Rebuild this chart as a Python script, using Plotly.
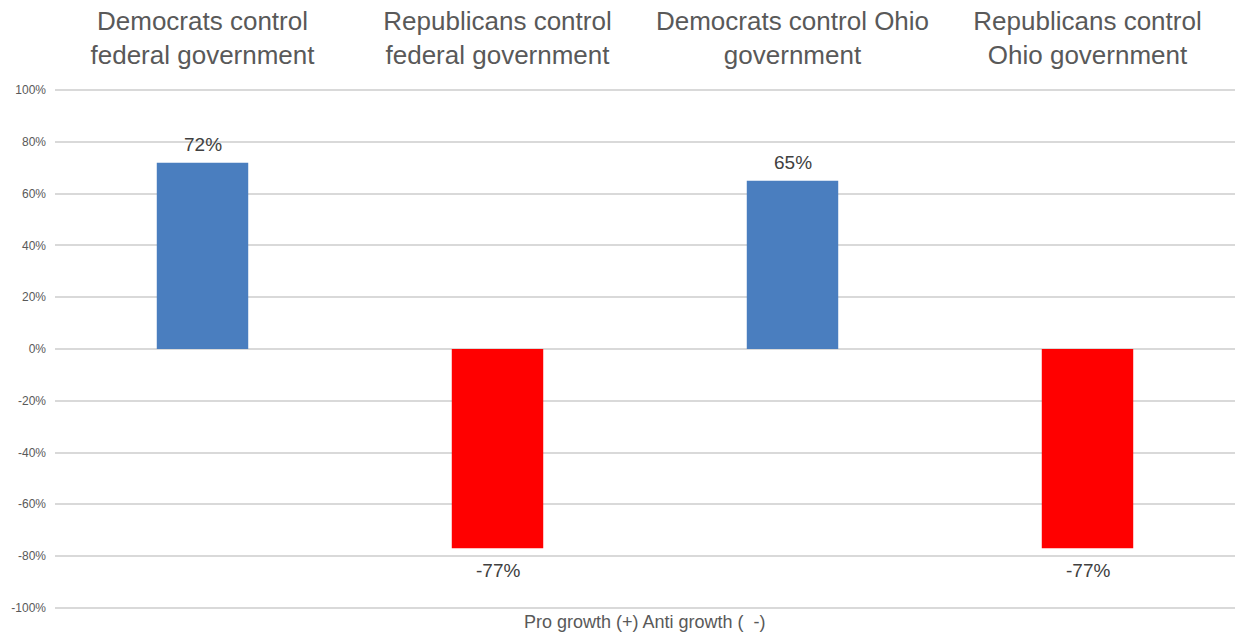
import plotly.graph_objects as go

categories = ["Democrats control<br>federal government",
              "Republicans control<br>federal government",
              "Democrats control Ohio<br>government",
              "Republicans control<br>Ohio government"]
values = [0.72, -0.77, 0.65, -0.77]
labels = ["72%", "-77%", "65%", "-77%"]
colors = ["#4a7ebf", "#ff0000", "#4a7ebf", "#ff0000"]
y_ticks = [-1.0, -0.8, -0.6, -0.4, -0.2, 0.0, 0.2, 0.4, 0.6, 0.8, 1.0]
y_ticktext = ["-100%", "-80%", "-60%", "-40%", "-20%", "0%", "20%", "40%", "60%", "80%", "100%"]
x_title = "Pro growth (+) Anti growth (  -)"

font_family = "Liberation Sans, Arial, sans-serif"

fig = go.Figure(go.Bar(
    x=categories, y=values, marker_color=colors, marker_line_width=0,
    hoverinfo="x+y",
))

annotations = []
for c, v, t in zip(categories, values, labels):
    annotations.append(dict(x=c, y=v, xref="x", yref="y", text=t, showarrow=False,
                            xanchor="center", yanchor="middle",
                            yshift=18 if v >= 0 else -22,
                            font=dict(size=19, color="#404040", family=font_family)))
annotations.append(dict(text=x_title, x=0.5, y=0, xref="paper", yref="paper",
                        xanchor="center", yanchor="top", yshift=3, showarrow=False,
                        font=dict(size=18, color="#595959", family=font_family)))

fig.update_layout(
    width=1238, height=636,
    margin=dict(l=55, r=3, t=85, b=23),
    plot_bgcolor="white", paper_bgcolor="white",
    bargap=0.69,
    showlegend=False,
    font=dict(family=font_family, color="#595959"),
    xaxis=dict(side="top", tickfont=dict(size=26, color="#595959"),
               showgrid=False, showline=False, ticks="", ticklabelstandoff=15,
               automargin=False),
    yaxis=dict(range=[-1.02, 1.02], tickvals=y_ticks, ticktext=y_ticktext,
               tickfont=dict(size=12, color="#595959"),
               showgrid=True, gridcolor="#d9d9d9", gridwidth=1.5,
               zeroline=True, zerolinecolor="#d9d9d9", zerolinewidth=1.5,
               showline=False, ticks="", ticklabelstandoff=8, automargin=False),
    annotations=annotations,
)

fig.write_html("out.html", config={"displayModeBar": False},
               post_script="document.body.style.margin='0';document.body.style.overflow='hidden';")
